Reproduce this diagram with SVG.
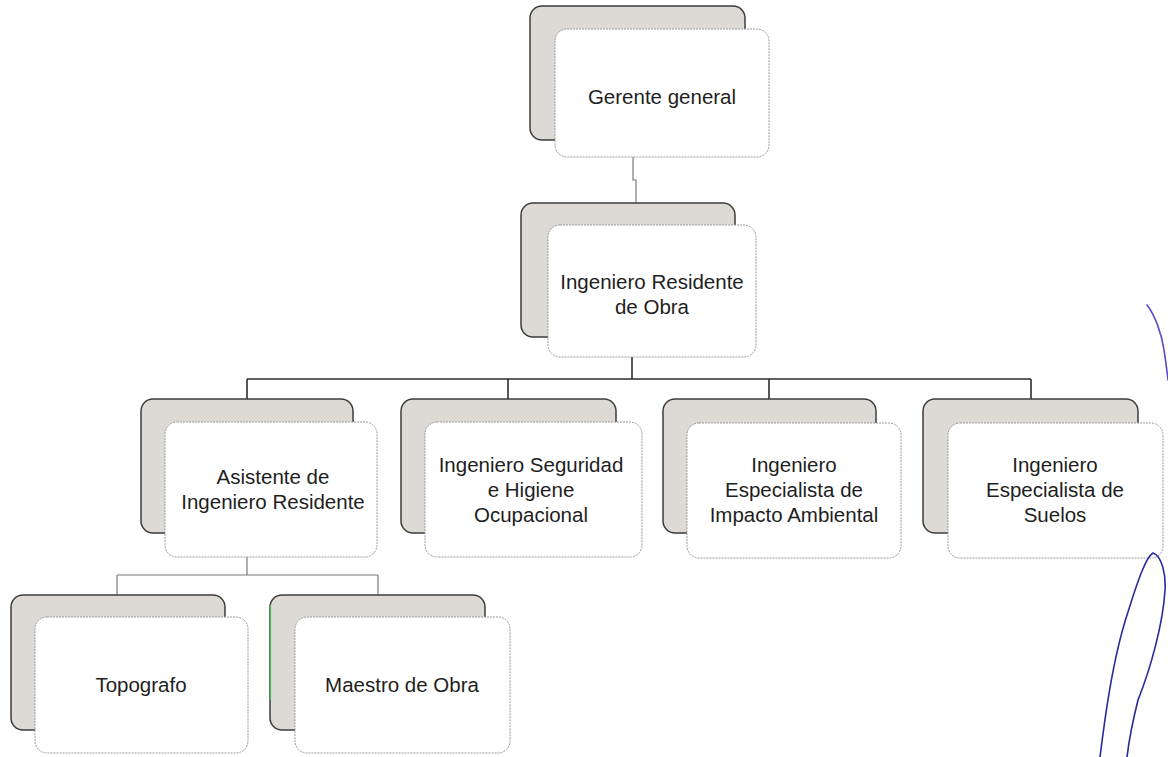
<svg xmlns="http://www.w3.org/2000/svg" width="1168" height="757" viewBox="0 0 1168 757">
<style>
.back{fill:#dddad6;stroke:#3c3c3c;stroke-width:1.5}
.front{fill:#ffffff;stroke:#9a9a9a;stroke-width:1;stroke-dasharray:2 1}
.lbl{font-family:"Liberation Sans",Arial,sans-serif;font-size:20.5px;fill:#1e1e1e;text-anchor:middle}
.c1{fill:none;stroke:#2e2e2e;stroke-width:1.6}
.c2{fill:none;stroke:#7a7a7a;stroke-width:1.2}
.pen{fill:none;stroke-linecap:round;stroke-width:1.6}
</style>
<rect width="1168" height="757" fill="#ffffff"/>
<g id="connectors">
<path class="c2" d="M633 157V180H636V203"/>
<path class="c1" d="M632 357V379M247 379H1031M247 379V399M508 379V399M769 379V399M1031 379V399"/>
<path class="c2" d="M247 557V575M117 575H378M117 575V595M378 575V595"/>
</g>
<g id="gerente">
<rect class="back" x="530" y="6" width="215" height="134" rx="12"/>
<rect class="front" x="555" y="29" width="214" height="128" rx="12"/>
<text class="lbl" x="662" y="104">Gerente general</text>
</g>
<g id="residente">
<rect class="back" x="521" y="203" width="214" height="134" rx="12"/>
<rect class="front" x="548" y="225" width="208" height="132" rx="12"/>
<text class="lbl" x="652" y="289">Ingeniero Residente</text>
<text class="lbl" x="652" y="314">de Obra</text>
</g>
<g id="asistente">
<rect class="back" x="141" y="399" width="212" height="134" rx="12"/>
<rect class="front" x="165" y="422" width="212" height="135" rx="12"/>
<text class="lbl" x="273" y="484">Asistente de</text>
<text class="lbl" x="273" y="509">Ingeniero Residente</text>
</g>
<g id="seguridad">
<rect class="back" x="401" y="399" width="215" height="134" rx="12"/>
<rect class="front" x="425" y="422" width="217" height="135" rx="12"/>
<text class="lbl" x="531" y="472">Ingeniero Seguridad</text>
<text class="lbl" x="531" y="497">e Higiene</text>
<text class="lbl" x="531" y="522">Ocupacional</text>
</g>
<g id="impacto">
<rect class="back" x="663" y="399" width="213" height="134" rx="12"/>
<rect class="front" x="687" y="423" width="214" height="135" rx="12"/>
<text class="lbl" x="794" y="472">Ingeniero</text>
<text class="lbl" x="794" y="497">Especialista de</text>
<text class="lbl" x="794" y="522">Impacto Ambiental</text>
</g>
<g id="suelos">
<rect class="back" x="923" y="399" width="215" height="134" rx="12"/>
<rect class="front" x="948" y="423" width="215" height="135" rx="12"/>
<text class="lbl" x="1055" y="472">Ingeniero</text>
<text class="lbl" x="1055" y="497">Especialista de</text>
<text class="lbl" x="1055" y="522">Suelos</text>
</g>
<g id="topografo">
<rect class="back" x="11" y="595" width="214" height="135" rx="12"/>
<rect class="front" x="35" y="617" width="213" height="136" rx="12"/>
<text class="lbl" x="141" y="692">Topografo</text>
</g>
<g id="maestro">
<rect class="back" x="270" y="595" width="215" height="135" rx="12"/>
<path d="M270.5 605V700" stroke="#3fbf5a" stroke-width="1.2" fill="none"/>
<rect class="front" x="295" y="617" width="215" height="136" rx="12"/>
<text class="lbl" x="402" y="692">Maestro de Obra</text>
</g>
<g id="pen-marks">
<path class="pen" stroke="#5a4fc4" d="M1147 305C1155 315 1162 335 1164 350C1166 362 1167 372 1168 380"/>
<path class="pen" stroke="#2a2a9c" d="M1100 757C1104 725 1112 660 1128 612C1138 580 1146 557 1153 553C1162 556 1166 575 1165 590C1163 625 1150 670 1138 700C1133 720 1129 740 1127 757"/>
</g>
</svg>
